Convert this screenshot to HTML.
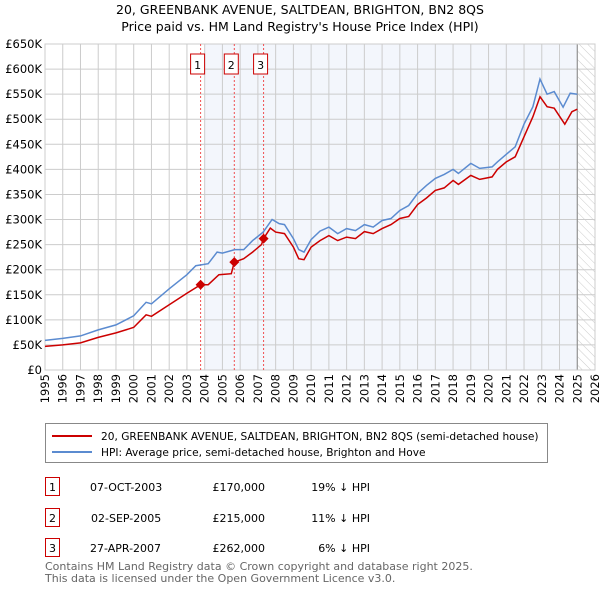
<!DOCTYPE html>
<html><head><meta charset="utf-8"><style>
body{margin:0;background:#fff;font-family:"Liberation Sans","DejaVu Sans",sans-serif;}
svg text{font-family:"DejaVu Sans","Liberation Sans",sans-serif;}
</style></head><body>
<svg width="600" height="590" viewBox="0 0 600 590">
<defs><pattern id="hatch" width="6" height="6" patternUnits="userSpaceOnUse" patternTransform="rotate(-45)"><line x1="0" y1="0" x2="0" y2="6" stroke="#ccc" stroke-width="1"/></pattern></defs>
<text x="300" y="14" text-anchor="middle" font-size="12.5">20, GREENBANK AVENUE, SALTDEAN, BRIGHTON, BN2 8QS</text>
<text x="300" y="31" text-anchor="middle" font-size="12.5">Price paid vs. HM Land Registry's House Price Index (HPI)</text>
<g id="plot"></g>
<g>
<rect x="45.5" y="423.5" width="502" height="39" fill="#fff" stroke="#888"/>
<line x1="52" y1="436" x2="92" y2="436" stroke="#cc0000" stroke-width="2"/>
<text x="101" y="440" font-size="10.6">20, GREENBANK AVENUE, SALTDEAN, BRIGHTON, BN2 8QS (semi-detached house)</text>
<line x1="52" y1="452" x2="92" y2="452" stroke="#5b8bd0" stroke-width="2"/>
<text x="101" y="456" font-size="10.6">HPI: Average price, semi-detached house, Brighton and Hove</text>
</g>
<g font-size="11">
<rect x="45.5" y="477.5" width="14" height="18" fill="#fff" stroke="#cc0000"/><text x="52.5" y="491" text-anchor="middle">1</text>
<text x="90" y="491">07-OCT-2003</text><text x="265" y="491" text-anchor="end">£170,000</text><text x="370" y="491" text-anchor="end">19% ↓ HPI</text>
<rect x="45.5" y="508.5" width="14" height="18" fill="#fff" stroke="#cc0000"/><text x="52.5" y="522" text-anchor="middle">2</text>
<text x="91" y="522">02-SEP-2005</text><text x="265" y="522" text-anchor="end">£215,000</text><text x="370" y="522" text-anchor="end">11% ↓ HPI</text>
<rect x="45.5" y="538.5" width="14" height="18" fill="#fff" stroke="#cc0000"/><text x="52.5" y="552" text-anchor="middle">3</text>
<text x="90" y="552">27-APR-2007</text><text x="265" y="552" text-anchor="end">£262,000</text><text x="370" y="552" text-anchor="end">6% ↓ HPI</text>
</g>
<text x="45" y="570" font-size="11" fill="#666">Contains HM Land Registry data © Crown copyright and database right 2025.</text>
<text x="45" y="582" font-size="11" fill="#666">This data is licensed under the Open Government Licence v3.0.</text>
</svg>
<script>
const hpiX=[1995,1996,1997,1998,1999,2000,2000.7,2001,2002,2003,2003.5,2004.2,2004.7,2005,2005.7,2006.2,2006.7,2007.3,2007.8,2008.2,2008.5,2009,2009.3,2009.6,2010,2010.5,2011,2011.5,2012,2012.5,2013,2013.5,2014,2014.5,2015,2015.5,2016,2016.5,2017,2017.5,2018,2018.3,2019,2019.5,2020.2,2020.5,2021,2021.5,2022,2022.5,2022.9,2023.3,2023.7,2024.2,2024.6,2025];
const hpiY=[59,63,68,80,90,108,135,132,162,190,208,212,235,233,240,240,258,275,300,292,290,262,240,235,260,277,285,272,282,278,290,285,298,302,318,328,352,368,382,390,400,392,412,402,405,415,430,445,490,525,580,550,555,524,552,550];
const propX=[1995,1996,1997,1998,1999,2000,2000.7,2001,2002,2003,2003.77,2004.2,2004.8,2005.5,2005.67,2006.2,2006.7,2007.2,2007.32,2007.7,2008,2008.5,2009,2009.3,2009.6,2010,2010.5,2011,2011.5,2012,2012.5,2013,2013.5,2014,2014.5,2015,2015.5,2016,2016.5,2017,2017.5,2018,2018.3,2019,2019.5,2020.2,2020.5,2021,2021.5,2022,2022.5,2022.9,2023.3,2023.7,2024.3,2024.7,2025];
const propY=[47,50,54,65,74,85,110,107,130,153,170,170,190,192,215,222,235,250,262,283,275,272,245,222,220,245,258,268,258,265,262,276,272,282,290,302,306,330,343,358,363,378,370,388,380,385,400,415,425,465,505,545,525,522,490,515,520];
const saleX=[2003.77,2005.67,2007.32];
const saleY=[170,215,262];
const saleLabels=["1","2","3"];
const yTicks=[0,50,100,150,200,250,300,350,400,450,500,550,600,650];
const xTicks=[1995,1996,1997,1998,1999,2000,2001,2002,2003,2004,2005,2006,2007,2008,2009,2010,2011,2012,2013,2014,2015,2016,2017,2018,2019,2020,2021,2022,2023,2024,2025,2026];
const L=45,R=595,T=44,B=370;
const sx=v=>L+(v-1995)/(2026-1995)*(R-L);
const sy=v=>B-v/650*(B-T);
const NS="http://www.w3.org/2000/svg";
const g=document.getElementById('plot');
function mk(t,a,p){const e=document.createElementNS(NS,t);for(const k in a)e.setAttribute(k,a[k]);(p||g).appendChild(e);return e;}
let bg=mk('rect',{x:L,y:T,width:R-L,height:B-T,fill:'#fff'});


let sh=mk('rect',{x:sx(2004),y:T,width:sx(2025)-sx(2004),height:B-T,fill:'#f3f6fc'});


let ht=mk('rect',{x:sx(2025),y:T,width:R-sx(2025),height:B-T,fill:'url(#hatch)'});


yTicks.forEach(v=>{
 mk('line',{x1:L,x2:R,y1:sy(v),y2:sy(v),stroke:'#ccc','stroke-width':1});
 let t=mk('text',{x:L-3,y:sy(v)+4,'text-anchor':'end','font-size':11.5});
 t.textContent=v===0?'£0':'£'+v+'K';
 
 
});
xTicks.forEach(v=>{
 mk('line',{x1:sx(v),x2:sx(v),y1:T,y2:B,stroke:'#ccc','stroke-width':1});
 let t=mk('text',{x:sx(v)+4,y:B+4,'text-anchor':'end','font-size':11.5,transform:`rotate(-90 ${sx(v)+4} ${B+4})`});
 t.textContent=v;
 
 
});
mk('line',{x1:sx(2025),x2:sx(2025),y1:T,y2:B,stroke:'#888','stroke-width':1});
mk('rect',{x:L,y:T,width:R-L,height:B-T,fill:'none',stroke:'#ccc'});
saleX.forEach((v,i)=>{
 let l=mk('line',{x1:sx(v),x2:sx(v),y1:T,y2:B,stroke:'#f05050','stroke-width':1,'stroke-dasharray':'2,2'});
 
 
 mk('rect',{x:sx(v)-10,y:54,width:14,height:20,fill:'#fff',stroke:'#cc0000'});
 let t=mk('text',{x:sx(v)-3,y:69,'text-anchor':'middle','font-size':11});
 t.textContent=saleLabels[i];
 
 
});
function path(xs,ys){return xs.map((x,i)=>(i?'L':'M')+sx(x).toFixed(1)+','+sy(ys[i]).toFixed(1)).join('');}
let hp=mk('path',{d:path(hpiX,hpiY),fill:'none',stroke:'#5b8bd0','stroke-width':1.5});


let pp=mk('path',{d:path(propX,propY),fill:'none',stroke:'#cc0000','stroke-width':1.5});


saleX.forEach((v,i)=>{
 const cx=sx(v),cy=sy(saleY[i]);
 let d=mk('path',{d:`M${cx},${cy-5}L${cx+5},${cy}L${cx},${cy+5}L${cx-5},${cy}Z`,fill:'#cc0000'});
 
 
});
</script>
</body></html>
